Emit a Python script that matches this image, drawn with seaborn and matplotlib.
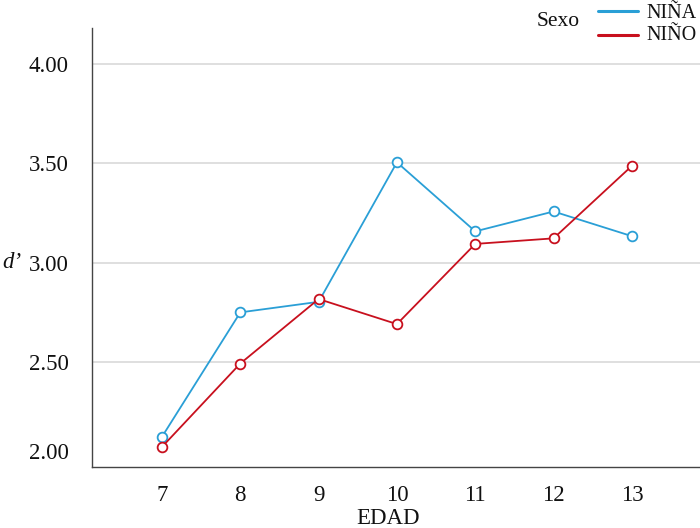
import matplotlib
matplotlib.use("Agg")
import matplotlib.pyplot as plt
import matplotlib.transforms as mtransforms
from matplotlib.lines import Line2D
import seaborn as sns
import pandas as pd

edad = [7, 8, 9, 10, 11, 12, 13]
nina = [2.126, 2.751, 2.804, 3.505, 3.158, 3.258, 3.134]
nino = [2.075, 2.494, 2.818, 2.692, 3.095, 3.123, 3.487]
series = ["NIÑA", "NIÑO"]
yticks = [2.00, 2.50, 3.00, 3.50, 4.00]
ytick_labels = ["2.00", "2.50", "3.00", "3.50", "4.00"]

colors = {"NIÑA": "#2a9fd6", "NIÑO": "#c8101e"}

df = pd.DataFrame({
    "EDAD": edad + edad,
    "d": nina + nino,
    "Sexo": ["NIÑA"] * len(edad) + ["NIÑO"] * len(edad),
})

sns.set_theme(style="white")
plt.rcParams["font.family"] = ["Liberation Serif", "DejaVu Serif"]
plt.rcParams["text.color"] = "#111111"
plt.rcParams["xtick.color"] = "#111111"
plt.rcParams["ytick.color"] = "#111111"
plt.rcParams["xtick.labelcolor"] = "#111111"
plt.rcParams["ytick.labelcolor"] = "#111111"
FS = 16.5

fig = plt.figure(figsize=(7.0, 5.28), dpi=100)
ax = fig.add_axes([92 / 700, 61 / 528, 1 - 92 / 700, (467 - 28) / 528])

for s in series:
    sub = df[df["Sexo"] == s]
    sns.lineplot(data=sub, x="EDAD", y="d", color=colors[s], marker="o",
                 markersize=7, markerfacecolor="white", markeredgecolor=colors[s],
                 markeredgewidth=1.3, linewidth=1.3, ax=ax, legend=False, zorder=3)

ax.set_xlim(6.106, 13.87)
ax.set_ylim(1.974, 4.18)
ax.set_xticks(edad)
ax.set_xticklabels([str(e) for e in edad], fontsize=FS)
ax.set_yticks(yticks)
ax.set_yticklabels(ytick_labels, fontsize=FS)
ax.tick_params(axis="x", length=0, pad=13)
ax.tick_params(axis="y", length=0, pad=17)

for yv in yticks[1:]:
    ax.axhline(yv, color="#d9d9d9", linewidth=1.2, zorder=1)

# nudge bottom label up
lbl0 = ax.get_yticklabels()[0]
lbl0.set_transform(lbl0.get_transform() + mtransforms.ScaledTranslation(0, 11 / 100, fig.dpi_scale_trans))

for s in ["top", "right"]:
    ax.spines[s].set_visible(False)
for s in ["left", "bottom"]:
    ax.spines[s].set_color("#444444")
    ax.spines[s].set_linewidth(1.0)

ax.set_xlabel("")
ax.set_ylabel("")
fig.text(388 / 700, 1 - 519 / 528, "EDAD", fontsize=FS, va="center", ha="center")
fig.text(2 / 700, 1 - 262 / 528, "d’", fontsize=FS, style="italic", va="center", ha="left")

# legend
fig.text(558 / 700, 1 - 21 / 528, "Sexo", fontsize=15.5, va="center", ha="center")
for i, s in enumerate(series):
    yl = 1 - (11 + 24 * i) / 528
    fig.add_artist(Line2D([598 / 700, 638 / 700], [yl, yl], color=colors[s],
                          linewidth=2.2, transform=fig.transFigure))
    fig.text(646 / 700, 1 - (13 + 23 * i) / 528, s, fontsize=14.5, va="center", ha="left")

fig.savefig("out.png", dpi=100)
